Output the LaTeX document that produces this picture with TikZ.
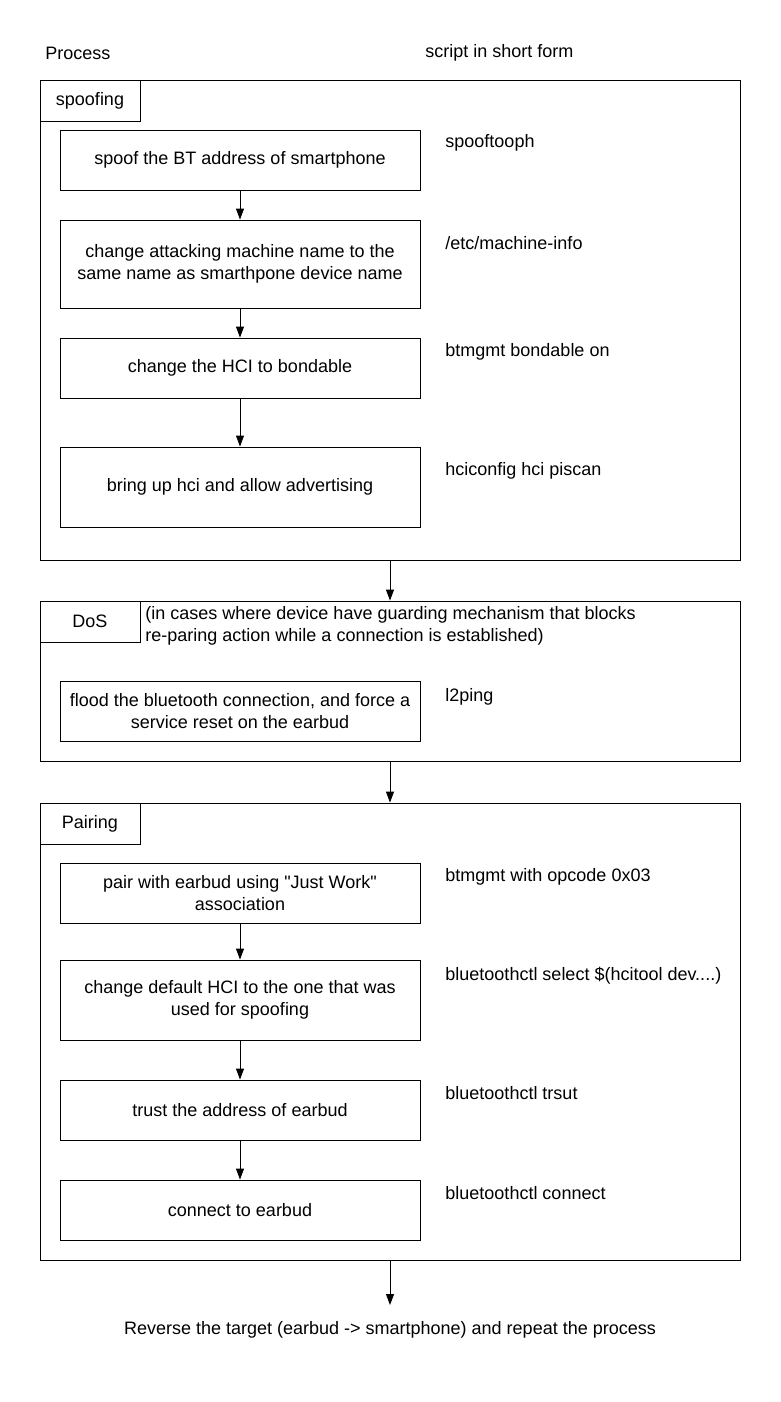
\documentclass[tikz,border=0pt]{standalone}
\usepackage{fontspec}
\setmainfont{Liberation Sans}
\usetikzlibrary{arrows.meta}

\begin{document}
\begin{tikzpicture}[x=1pt, y=-1pt, line width=0.9pt,
  >={Triangle[length=11pt, width=8pt]},
  every node/.style={font=\fontsize{18}{22}\selectfont},
  stepbox/.style={draw, minimum width=360pt, align=center, inner sep=0pt},
  groupbox/.style={draw, minimum width=700pt, inner sep=0pt},
  tabbox/.style={draw, minimum width=100pt, minimum height=41pt, inner sep=0pt, anchor=north west},
  cmd/.style={anchor=west, inner sep=0pt}]
  \useasboundingbox (0, 0) rectangle (780, 1402);

  % column headings
  \node[anchor=west, inner sep=0pt] (proc) at (45, 53) {Process};
  \node[anchor=west, inner sep=0pt] (script) at (425, 53) {script in short form};

  % spoofing group
  \node[groupbox, minimum height=480pt] (spoof) at (390, 320) {};
  \node[tabbox] (spooftab) at (spoof.north west) {spoofing};
  \node[stepbox, minimum height=60pt] (s1) at (240, 160) {spoof the BT address of smartphone};
  \node[stepbox, minimum height=88pt] (s2) at (240, 264) {change attacking machine name to the\\same name as smarthpone device name};
  \node[stepbox, minimum height=60pt] (s3) at (240, 368) {change the HCI to bondable};
  \node[stepbox, minimum height=80pt] (s4) at (240, 487) {bring up hci and allow advertising};
  \node[cmd] (c1) at (445, 143) {spooftooph};
  \node[cmd] (c2) at (445, 243) {/etc/machine-info};
  \node[cmd] (c3) at (445, 352) {btmgmt bondable on};
  \node[cmd] (c4) at (445, 471) {hciconfig hci piscan};
  \draw[->] (s1) -- (s2);
  \draw[->] (s2) -- (s3);
  \draw[->] (s3) -- (s4);

  % DoS group
  \node[groupbox, minimum height=160pt] (dos) at (390, 681) {};
  \node[tabbox] (dostab) at (dos.north west) {DoS};
  \node[anchor=west, align=left, inner sep=0pt] (dosnote) at (145, 626)
    {(in cases where device have guarding mechanism that blocks\\re-paring action while a connection is established)};
  \node[stepbox, minimum height=60pt] (d1) at (240, 711) {flood the bluetooth connection, and force a\\service reset on the earbud};
  \node[cmd] (c5) at (445, 697) {l2ping};
  \draw[->] (spoof) -- (dos);

  % pairing group
  \node[groupbox, minimum height=457pt] (pair) at (390, 1031.5) {};
  \node[tabbox] (pairtab) at (pair.north west) {Pairing};
  \node[stepbox, minimum height=60pt] (p1) at (240, 893) {pair with earbud using \textquotedbl Just Work\textquotedbl\\association};
  \node[stepbox, minimum height=80pt] (p2) at (240, 1000) {change default HCI to the one that was\\used for spoofing};
  \node[stepbox, minimum height=60pt] (p3) at (240, 1110) {trust the address of earbud};
  \node[stepbox, minimum height=60pt] (p4) at (240, 1210) {connect to earbud};
  \node[cmd] (c6) at (445, 877) {btmgmt with opcode 0x03};
  \node[cmd] (c7) at (445, 976) {bluetoothctl select \$(hcitool dev....)};
  \node[cmd] (c8) at (445, 1093) {bluetoothctl trsut};
  \node[cmd] (c9) at (445, 1193) {bluetoothctl connect};
  \draw[->] (dos) -- (pair);
  \draw[->] (p1) -- (p2);
  \draw[->] (p2) -- (p3);
  \draw[->] (p3) -- (p4);

  % last step
  \coordinate (tip) at (390, 1305);
  \draw[->] (pair) -- (tip);
  \node (rev) at (390, 1330) {Reverse the target (earbud -> smartphone) and repeat the process};
\end{tikzpicture}
\end{document}
